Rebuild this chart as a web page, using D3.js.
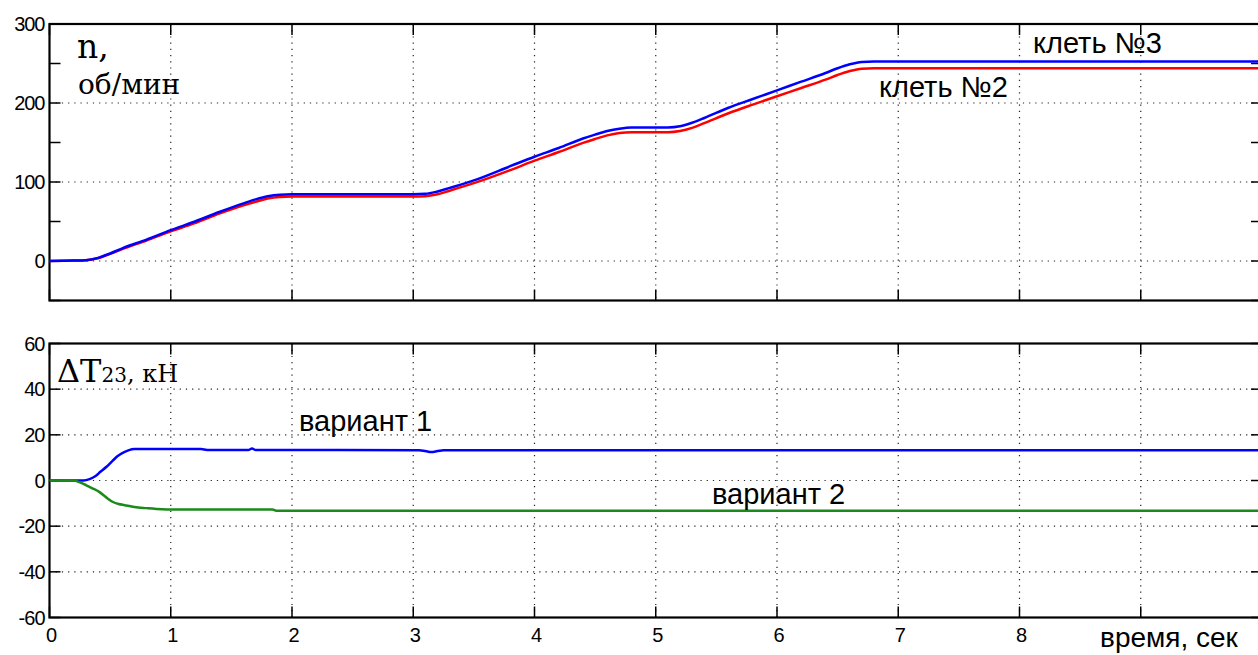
<!DOCTYPE html>
<html>
<head>
<meta charset="utf-8">
<script src="https://cdn.jsdelivr.net/npm/d3@7"></script>
<style>
  body { margin: 0; background: #fff; }
  svg { display: block; }
</style>
</head>
<body>
<div id="chart"></div>
<script>
var width = 1258, height = 655;

// --- data (time in s) ---
var timeTicks = [0, 1, 2, 3, 4, 5, 6, 7, 8, 9, 10];
var timeTickLabels = ["0", "1", "2", "3", "4", "5", "6", "7", "8", "", ""];

var speedTicks = [-50, 0, 50, 100, 150, 200, 250, 300];
var speedTickLabels = ["", "0", "", "100", "", "200", "", "300"];
var tensionTicks = [-60, -40, -20, 0, 20, 40, 60];

// клеть №3, n об/мин
var stand3 = [
  [0, 0], [0.2, 0.5], [0.3, 1], [0.4, 4], [0.5, 9.5], [0.6, 16], [0.8, 27], [1.0, 39],
  [1.2, 50], [1.4, 62], [1.6, 73], [1.7, 78], [1.8, 82], [1.9, 84], [2.0, 84.5],
  [3.0, 84.5], [3.1, 85], [3.2, 88], [3.3, 92.5], [3.5, 102], [3.8, 120], [4.0, 132],
  [4.2, 143], [4.4, 155], [4.5, 160], [4.6, 164.5], [4.7, 167.5], [4.8, 169],
  [5.1, 169], [5.2, 170.5], [5.3, 175], [5.4, 181], [5.6, 194], [5.8, 205], [6.0, 216],
  [6.2, 227], [6.4, 238], [6.5, 244], [6.6, 249], [6.7, 252], [6.8, 252.5], [10, 252.5]
];
// клеть №2
var stand2 = [
  [0, 0], [0.2, 0.5], [0.3, 1], [0.4, 3.5], [0.5, 9], [0.6, 15], [0.8, 26], [1.0, 37.5],
  [1.2, 48], [1.4, 60], [1.6, 70.5], [1.7, 75], [1.8, 79], [1.9, 81], [2.0, 81.5],
  [3.0, 81.5], [3.1, 82], [3.2, 84.5], [3.3, 89], [3.5, 98.5], [3.8, 115], [4.0, 127],
  [4.2, 138], [4.4, 149.5], [4.5, 154.5], [4.6, 159], [4.7, 162], [4.8, 163],
  [5.1, 163], [5.2, 164.5], [5.3, 168.5], [5.4, 174.5], [5.6, 187], [5.8, 198], [6.0, 208.5],
  [6.2, 219], [6.4, 229.5], [6.5, 235.5], [6.6, 240.5], [6.7, 243.5], [6.8, 244], [10, 244]
];
// ΔT23, кН
var variant1 = [
  [0, 0], [0.28, 0], [0.33, 0.6], [0.38, 2], [0.42, 3.8], [0.47, 6], [0.52, 8.6],
  [0.56, 10.6], [0.6, 12], [0.65, 13.2], [0.7, 13.8], [1.0, 13.8], [1.25, 13.8],
  [1.3, 13.4], [1.64, 13.4], [1.67, 14], [1.7, 13.4], [3.05, 13.3], [3.1, 12.9],
  [3.15, 12.5], [3.2, 12.9], [3.25, 13.3], [10, 13.3]
];
var variant2 = [
  [0, 0], [0.2, 0], [0.25, -0.8], [0.3, -2], [0.35, -3.3], [0.41, -5], [0.47, -7.5],
  [0.52, -9.3], [0.57, -10.3], [0.62, -10.8], [0.7, -11.6], [0.8, -12.1], [0.93, -12.6],
  [1.0, -12.7], [1.84, -12.7], [1.87, -13.2], [10, -13.2]
];

var svg = d3.select("#chart").append("svg")
  .attr("width", width)
  .attr("height", height);

var x = d3.scaleLinear().domain([0, 10]).range([49.5, 1262]);
var yTop = d3.scaleLinear().domain([-50, 300]).range([300.5, 24]);
var yBot = d3.scaleLinear().domain([-60, 60]).range([617.5, 343.5]);

var tickFont = "'Liberation Sans', Arial, sans-serif";

function panel(y, yTicks, yLabels, showX) {
  var g = svg.append("g");
  var y0 = y.range()[0], y1 = y.range()[1];
  var x0 = x.range()[0], x1 = x.range()[1];

  // dotted grid
  g.selectAll("line.vgrid").data(timeTicks.slice(1, -1)).enter().append("line")
    .attr("x1", function(d) { return x(d); })
    .attr("x2", function(d) { return x(d); })
    .attr("y1", y1).attr("y2", y0)
    .style("stroke", "#222").style("stroke-width", 1.2)
    .style("stroke-dasharray", "1.2,5");
  g.selectAll("line.hgrid").data(yLabels.filter(function(d, i) {
      return d !== "" && i > 0 && i < yTicks.length - 1;
    }).map(Number)).enter().append("line")
    .attr("x1", x0).attr("x2", x1)
    .attr("y1", function(d) { return y(d); })
    .attr("y2", function(d) { return y(d); })
    .style("stroke", "#222").style("stroke-width", 1.2)
    .style("stroke-dasharray", "1.2,5");

  // inward ticks on all four sides
  var tl = 11;
  timeTicks.forEach(function(t) {
    g.append("line").attr("x1", x(t)).attr("x2", x(t)).attr("y1", y0).attr("y2", y0 - tl)
      .style("stroke", "#000").style("stroke-width", 1.5);
    g.append("line").attr("x1", x(t)).attr("x2", x(t)).attr("y1", y1).attr("y2", y1 + tl)
      .style("stroke", "#000").style("stroke-width", 1.5);
  });
  yTicks.forEach(function(v) {
    g.append("line").attr("x1", x0).attr("x2", x0 + tl).attr("y1", y(v)).attr("y2", y(v))
      .style("stroke", "#000").style("stroke-width", 1.5);
    g.append("line").attr("x1", x1).attr("x2", x1 - tl).attr("y1", y(v)).attr("y2", y(v))
      .style("stroke", "#000").style("stroke-width", 1.5);
  });

  // box
  g.append("rect").attr("x", x0).attr("y", y1)
    .attr("width", x1 - x0).attr("height", y0 - y1)
    .style("fill", "none").style("stroke", "#000").style("stroke-width", 2.2);

  // y tick labels
  g.selectAll("text.ylab").data(yTicks).enter().append("text")
    .attr("x", x0 - 5)
    .attr("y", function(d) { return y(d) + 7; })
    .attr("text-anchor", "end")
    .text(function(d, i) { return yLabels[i]; })
    .style("font-family", tickFont)
    .style("font-size", "20px")
    .style("letter-spacing", "-1px");

  if (showX) {
    g.selectAll("text.xlab").data(timeTicks).enter().append("text")
      .attr("x", function(d) { return x(d) + 2; })
      .attr("y", y0 + 24)
      .attr("text-anchor", "middle")
      .text(function(d, i) { return timeTickLabels[i]; })
      .style("font-family", tickFont)
      .style("font-size", "20px");
  }
  return g;
}

panel(yTop, speedTicks, speedTickLabels, false);
panel(yBot, tensionTicks, tensionTicks.map(String), true);

function drawLine(data, y, color) {
  var line = d3.line()
    .x(function(d) { return x(d[0]); })
    .y(function(d) { return y(d[1]); })
    .curve(d3.curveMonotoneX);
  svg.append("path").datum(data)
    .attr("d", line)
    .style("fill", "none")
    .style("stroke", color)
    .style("stroke-width", 2.5);
}

drawLine(stand2, yTop, "#ff0000");
drawLine(stand3, yTop, "#0000ff");
drawLine(variant1, yBot, "#0000ff");
drawLine(variant2, yBot, "#1a8a1a");

// labels
var serif = "'DejaVu Serif', 'Liberation Serif', serif";
svg.append("text").attr("x", 77).attr("y", 58).text("n,")
  .style("font-family", serif).style("font-size", "33px");
svg.append("text").attr("x", 78).attr("y", 94).text("об/мин")
  .style("font-family", serif).style("font-size", "28px");

var dt = svg.append("text").attr("x", 57).attr("y", 382)
  .style("font-family", serif).style("font-size", "32px");
dt.append("tspan").text("ΔT");
dt.append("tspan").text("23").style("font-size", "20px");
dt.append("tspan").text(", кН").style("font-size", "24px");

var sans = "'Liberation Sans', Arial, sans-serif";
var labels = [
  { t: "клеть №3", x: 1033, y: 53, s: 29 },
  { t: "клеть №2", x: 879, y: 97, s: 29 },
  { t: "вариант 1", x: 299, y: 431, s: 29 },
  { t: "вариант 2", x: 712, y: 504, s: 29 },
  { t: "время, сек", x: 1100, y: 647, s: 28 }
];
labels.forEach(function(l) {
  svg.append("text").attr("x", l.x).attr("y", l.y).text(l.t)
    .style("font-family", sans).style("font-size", l.s + "px");
});
</script>
</body>
</html>
